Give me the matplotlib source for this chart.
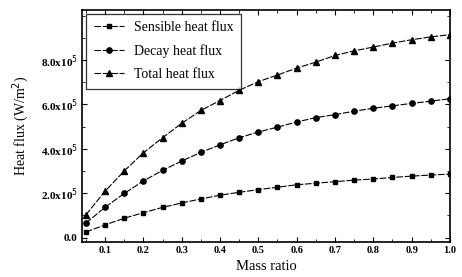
import numpy as np
import matplotlib
matplotlib.use("Agg")
import matplotlib.pyplot as plt
from matplotlib.ticker import MultipleLocator, FixedLocator

plt.rcParams['font.family'] = ['Liberation Serif', 'DejaVu Serif']

# mass ratio
mass_ratio = [0.05, 0.10, 0.15, 0.20, 0.25, 0.30, 0.35, 0.40, 0.45, 0.50,
              0.55, 0.60, 0.65, 0.70, 0.75, 0.80, 0.85, 0.90, 0.95, 1.00]

# heat flux, units of 1e5 W/m^2
sensible = [0.25, 0.57, 0.87, 1.12, 1.36, 1.56, 1.74, 1.91, 2.04, 2.16,
            2.27, 2.38, 2.45, 2.52, 2.59, 2.64, 2.71, 2.77, 2.82, 2.86]
decay = [0.65, 1.36, 1.99, 2.55, 3.03, 3.45, 3.84, 4.18, 4.50, 4.76,
         4.98, 5.21, 5.41, 5.54, 5.70, 5.83, 5.94, 6.05, 6.15, 6.26]
total = [1.02, 2.09, 3.00, 3.82, 4.50, 5.15, 5.73, 6.18, 6.64, 7.03,
         7.33, 7.64, 7.91, 8.21, 8.42, 8.59, 8.77, 8.92, 9.05, 9.15]

ytick_vals = [0, 2, 4, 6, 8]
ytick_labels = ['0.0', '2.0x10$^5$', '4.0x10$^5$', '6.0x10$^5$', '8.0x10$^5$']

fig = plt.figure(figsize=(4.62, 2.77), dpi=100)
ax = fig.add_axes([0.1775, 0.128, 0.7965, 0.835])

ls = (0, (6, 1.5))
ax.plot(mass_ratio, sensible, color='black', lw=0.8, ls=ls, marker='s', ms=3.5,
        label='Sensible heat flux')
ax.plot(mass_ratio, decay, color='black', lw=0.8, ls=ls, marker='o', ms=3.8,
        label='Decay heat flux')
ax.plot(mass_ratio, total, color='black', lw=0.8, ls=ls, marker='^', ms=4,
        label='Total heat flux')

ax.set_xlim(0.04, 1.0)
ax.set_ylim(-0.18, 10.25)
ax.xaxis.set_major_locator(FixedLocator(np.arange(0.1, 1.01, 0.1)))
ax.xaxis.set_minor_locator(MultipleLocator(0.05))
ax.set_yticks(ytick_vals)
ax.set_yticklabels(ytick_labels)
ax.yaxis.set_minor_locator(MultipleLocator(1))
ax.tick_params(which='both', direction='in', top=True, right=True, pad=3)
ax.tick_params(axis='x', labelsize=7.5)
ax.tick_params(axis='y', labelsize=8)
ax.tick_params(which='major', length=3.5)
ax.tick_params(which='minor', length=2)
for lab in ax.get_xticklabels() + ax.get_yticklabels():
    lab.set_fontweight('bold')
for sp in ax.spines.values():
    sp.set_linewidth(1.2)

ax.set_xlabel('Mass ratio', fontsize=10.5, labelpad=4)
ax.set_ylabel('Heat flux (W/m$^2$)', fontsize=10, labelpad=7)

leg = ax.legend(loc='upper left', fontsize=10, frameon=True, fancybox=False,
                edgecolor='black', handlelength=2.2, handletextpad=0.7,
                borderpad=0.55, labelspacing=0.72, borderaxespad=0,
                bbox_to_anchor=(0.011, 0.985))
leg.get_frame().set_linewidth(0.9)

fig.savefig('out.png', dpi=100)
